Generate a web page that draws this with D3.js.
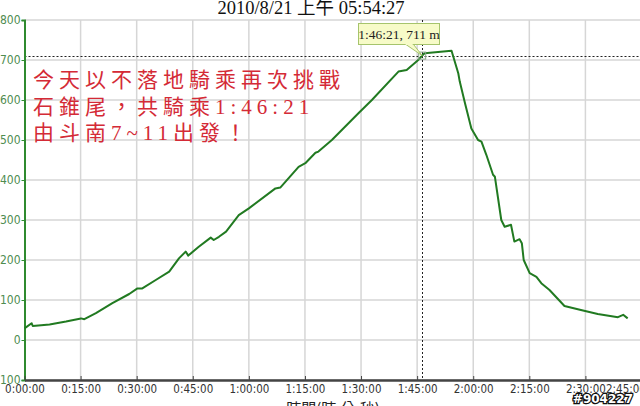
<!DOCTYPE html>
<html>
<head>
<meta charset="utf-8">
<script src="https://cdn.jsdelivr.net/npm/d3@7"></script>
<style>
  html, body { margin: 0; padding: 0; background: #fff; }
  svg { display: block; overflow: hidden; }
  .tick text { font-family: "DejaVu Sans Condensed", "DejaVu Sans", sans-serif; font-stretch: condensed; }
</style>
</head>
<body>
<div id="chart"></div>
<script>
// elapsed time in minutes and elevation in metres
var timeMin = [0, 1.9, 2.2, 6.7, 11.1, 15.1, 16, 19.1, 23.5, 28, 30.2, 31.5, 35.1, 38.7, 41.3, 43.1, 43.8,
    46.6, 49.8, 50.6, 52, 53.9, 57.3, 60, 67.1, 68.4, 73.3, 75.1, 77.8, 78.6, 82.2, 89.3, 92.9, 100, 102.2,
    105.3, 106.35, 107, 114.2, 116, 116.4, 117.8, 119.5, 121.3, 122.2, 123.5, 125.3, 125.8, 127.5, 128.4,
    130.1, 131, 132.4, 133, 133.5, 135.1, 136.9, 138.2, 140.4, 144.4, 148.8, 153.3, 158.7, 160.1, 161.3]
var elevation = [29, 42, 35, 39, 46, 54, 52, 67, 92, 115, 129, 129, 150, 171, 204, 221, 211,
    233, 256, 250, 258, 271, 312, 329, 379, 381, 433, 442, 468, 471, 500, 567, 600, 671, 675,
    700, 711, 717, 723, 667, 646, 592, 529, 500, 496, 463, 413, 408, 300, 283,
    288, 246, 252, 242, 200, 167, 158, 142, 125, 85, 75, 65, 57, 63, 54]

var yTicks = [-100, 0, 100, 200, 300, 400, 500, 600, 700, 800]
var xTicks = [0, 15, 30, 45, 60, 75, 90, 105, 120, 135, 150, 165]

var chartTitle = "2010/8/21 上午 05:54:27"
var xLabel = "時間(時:分:秒)"
var marker = { time: 106.35, value: 711, label: "1:46:21, 711 m" }
var noteLines = ["今天以不落地騎乘再次挑戰", "石錐尾，共騎乘1:46:21", "由斗南7~11出發！"]
var stamp = "#904227"

var W = 640, H = 406
var margin = { left: 24.5, top: 20, right: -1.5, bottom: 26 }

function fmtTime(m) {
    var h = Math.floor(m / 60)
    var mm = Math.floor(m % 60)
    var ss = Math.round((m * 60) % 60)
    return h + ":" + String(mm).padStart(2, "0") + ":" + String(ss).padStart(2, "0")
}

var svg = d3.select("#chart").append("svg")
    .attr("width", W)
    .attr("height", H)

var x = d3.scaleLinear().domain([0, 165]).range([margin.left, W - margin.right])
var y = d3.scaleLinear().domain([-100, 800]).range([H - margin.bottom, margin.top])

var data = timeMin.map(function(t, i) { return { time: t, value: elevation[i] } })

// gridlines
svg.append("g")
    .selectAll("line.hgrid")
    .data(yTicks)
    .enter().append("line")
        .attr("x1", margin.left).attr("x2", W)
        .attr("y1", function(d) { return y(d) }).attr("y2", function(d) { return y(d) })
        .attr("stroke", "#d6d6d6").attr("stroke-width", 1.5)

svg.append("g")
    .selectAll("line.vgrid")
    .data(xTicks.slice(1))
    .enter().append("line")
        .attr("x1", function(d) { return x(d) }).attr("x2", function(d) { return x(d) })
        .attr("y1", margin.top).attr("y2", H - margin.bottom)
        .attr("stroke", "#d6d6d6").attr("stroke-width", 1.5)

// crosshair at the marker
svg.append("line")
    .attr("x1", margin.left).attr("x2", W)
    .attr("y1", Math.round(y(marker.value)) + 0.5).attr("y2", Math.round(y(marker.value)) + 0.5)
    .attr("stroke", "#222").attr("stroke-width", 1).attr("stroke-dasharray", "2,2")
svg.append("line")
    .attr("x1", Math.round(x(marker.time)) + 0.5).attr("x2", Math.round(x(marker.time)) + 0.5)
    .attr("y1", margin.top).attr("y2", H - margin.bottom)
    .attr("stroke", "#222").attr("stroke-width", 1).attr("stroke-dasharray", "2,2")

// y axis
var yAxis = svg.append("g")
    .attr("transform", "translate(" + margin.left + ",0)")
    .call(d3.axisLeft(y).tickValues(yTicks).tickSize(3).tickPadding(1))
yAxis.select(".domain").attr("stroke", "#2f8a2f").attr("stroke-width", 2)
yAxis.selectAll(".tick line").attr("stroke", "#2f8a2f")
yAxis.selectAll(".tick text").attr("fill", "#4f8c4f").style("font-size", "12px")

// x axis
var xAxis = svg.append("g")
    .attr("transform", "translate(0," + (H - margin.bottom) + ")")
    .call(d3.axisBottom(x).tickValues(xTicks).tickSizeInner(-4).tickSizeOuter(0).tickPadding(5).tickFormat(fmtTime))
xAxis.select(".domain").attr("stroke", "#444").attr("stroke-width", 2.5)
xAxis.selectAll(".tick line").attr("stroke", "#444")
xAxis.selectAll(".tick text").attr("fill", "#333").style("font-size", "11.5px")
// last label is pushed back inside the frame
xAxis.selectAll(".tick text").filter(function(d) { return d === 165 })
    .attr("text-anchor", "start")
    .attr("x", -36)

// elevation line
svg.append("path")
    .datum(data)
    .attr("fill", "none")
    .attr("stroke", "#217a21")
    .attr("stroke-width", 2)
    .attr("stroke-linejoin", "round")
    .attr("d", d3.line()
        .x(function(d) { return x(d.time) })
        .y(function(d) { return y(d.value) }))

// marker point
svg.append("rect")
    .attr("x", x(marker.time) - 3.5).attr("y", y(marker.value) - 3.5)
    .attr("width", 7).attr("height", 7)
    .attr("fill", "none").attr("stroke", "#8aa88a").attr("stroke-width", 1)

// tooltip callout
var px = x(marker.time), py = y(marker.value)
var bx = 358, by = 23, bw = 81, bh = 21
svg.append("path")
    .attr("d", "M" + (px - 17) + "," + (by + bh) + " L" + px + "," + py + " L" + (px - 9) + "," + (by + bh) + " Z")
    .attr("fill", "#f7fbc8").attr("stroke", "#a6c46c").attr("stroke-width", 1)
svg.append("rect")
    .attr("x", bx + 0.5).attr("y", by + 0.5).attr("width", bw).attr("height", bh)
    .attr("fill", "#f7fbc8").attr("stroke", "#a6c46c").attr("stroke-width", 1)
svg.append("rect")
    .attr("x", px - 16.5).attr("y", by + bh - 1).attr("width", 7).attr("height", 2)
    .attr("fill", "#f7fbc8")
svg.append("text")
    .attr("x", bx + bw / 2 + 0.5).attr("y", by + 15.5)
    .attr("text-anchor", "middle")
    .style("font-family", "'Liberation Serif', serif")
    .style("font-size", "13.5px")
    .attr("fill", "#222")
    .text(marker.label)

// title
svg.append("text")
    .attr("x", 311).attr("y", 14)
    .attr("text-anchor", "middle")
    .style("font-family", "'Liberation Serif', 'Noto Sans CJK TC', serif")
    .style("font-size", "18.5px")
    .attr("fill", "#111")
    .text(chartTitle)

// axis title, cut by the bottom edge
svg.append("text")
    .attr("x", 333).attr("y", 414)
    .attr("text-anchor", "middle")
    .style("font-family", "'Noto Sans CJK TC', sans-serif")
    .style("font-size", "15px")
    .attr("fill", "#222")
    .text(xLabel)

// red annotation
svg.append("g")
    .selectAll("text")
    .data(noteLines)
    .enter().append("text")
        .attr("x", 33)
        .attr("y", function(d, i) { return 87 + i * 26.5 })
        .style("font-family", "'Liberation Serif', 'Noto Sans CJK TC', serif")
        .style("font-size", "21px")
        .style("letter-spacing", "5px")
        .attr("fill", "#d42a36")
        .text(function(d) { return d })

// stamp in the corner
svg.append("text")
    .attr("x", 633).attr("y", 403)
    .attr("text-anchor", "end")
    .style("font-family", "'DejaVu Sans', sans-serif")
    .style("font-size", "12px")
    .style("font-weight", "bold")
    .attr("fill", "#fff")
    .attr("stroke", "#111")
    .attr("stroke-width", 2.5)
    .attr("paint-order", "stroke")
    .text(stamp)
</script>
</body>
</html>
